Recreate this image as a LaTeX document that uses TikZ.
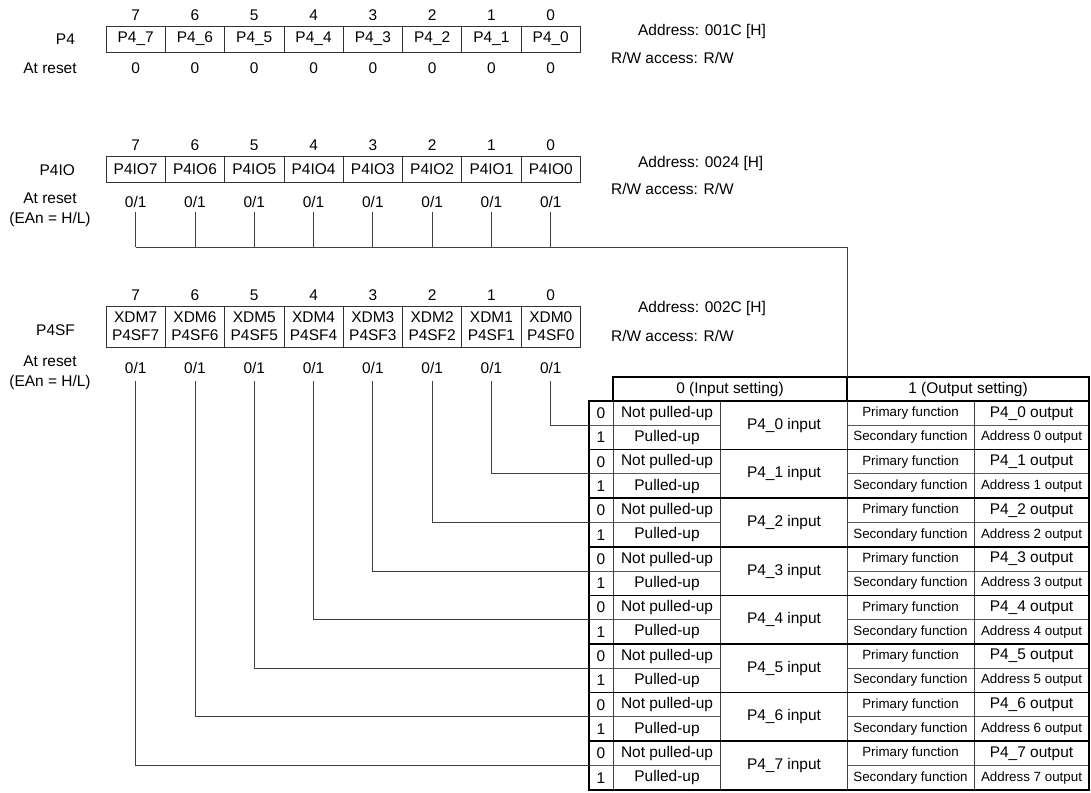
\documentclass[tikz,border=0pt]{standalone}
\usepackage{fontspec}
\setmainfont{Liberation Sans}
\begin{document}
\begin{tikzpicture}[x=0.02cm,y=-0.02cm]
\tikzstyle{regcell}=[draw=black!80,rectangle,minimum width=1.186cm,minimum height=0.52cm,inner sep=0pt,font=\fontsize{8.8}{10}\selectfont]
\tikzstyle{sfcell}=[regcell,minimum height=0.82cm,align=center,font=\fontsize{8.8}{10.2}\selectfont]
\tikzstyle{txt}=[inner sep=1pt,font=\fontsize{8.8}{10.5}\selectfont]
\tikzstyle{smalltxt}=[inner sep=1pt,font=\fontsize{7.6}{9}\selectfont]
\tikzstyle{wire}=[draw=black!75,line width=0.5pt]
\tikzstyle{grpline}=[black,line width=0.9pt]
\tikzstyle{subline}=[black!65,line width=0.5pt]
\tikzstyle{colline}=[black!75,line width=0.55pt]
\useasboundingbox (0,0) rectangle (1091,792);

% P4 register
\node[txt,anchor=east] (p4label) at (77,39) {P4};
\node[txt] (p4rstlabel) at (50,68) {At reset};
\node[txt,anchor=west] (p4addr) at (636,31) {Address: 001C [H]};
\node[txt,anchor=west] (p4rw) at (609,58) {R/W access: R/W};
\foreach \n in {0,...,7} {
  \node[txt] (p4bit\n) at ({106+59.3*(7.5-\n)},15) {\n};
  \node[regcell] (p4c\n) at ({106+59.3*(7.5-\n)},39) {P4\_\n};
  \node[txt] (p4rst\n) at ({106+59.3*(7.5-\n)},68) {0};
}

% P4IO register
\node[txt,anchor=east] (iolabel) at (77,170) {P4IO};
\node[txt,align=center,font=\fontsize{8.8}{11.5}\selectfont] (iorstlabel) at (50,210) {At reset\\(EAn = H/L)};
\node[txt,anchor=west] (ioaddr) at (636,163) {Address: 0024 [H]};
\node[txt,anchor=west] (iorw) at (609,189) {R/W access: R/W};
\foreach \n in {0,...,7} {
  \node[txt] (iobit\n) at ({106+59.3*(7.5-\n)},145) {\n};
  \node[regcell] (ioc\n) at ({106+59.3*(7.5-\n)},169.5) {P4IO\n};
  \node[txt] (iorst\n) at ({106+59.3*(7.5-\n)},202) {0/1};
}

% P4SF register
\node[txt,anchor=east] (sflabel) at (77,330) {P4SF};
\node[txt,align=center,font=\fontsize{8.8}{11.5}\selectfont] (sfrstlabel) at (50,373) {At reset\\(EAn = H/L)};
\node[txt,anchor=west] (sfaddr) at (636,308) {Address: 002C [H]};
\node[txt,anchor=west] (sfrw) at (609,336) {R/W access: R/W};
\foreach \n in {0,...,7} {
  \node[txt] (sfbit\n) at ({106+59.3*(7.5-\n)},295) {\n};
  \node[sfcell] (sfc\n) at ({106+59.3*(7.5-\n)},326.5) {XDM\n\\P4SF\n};
  \node[txt] (sfrst\n) at ({106+59.3*(7.5-\n)},368) {0/1};
}

% table
\node[txt] (hdrin) at (730,389) {0 (Input setting)};
\node[txt] (hdrout) at (968,389) {1 (Output setting)};
\coordinate (hdrsplit) at (847,377);
\draw[grpline] (613,377) rectangle (1089,401);
\draw[grpline] (847,377) -- (847,401);
\foreach \n in {0,...,7} {
  \draw[subline] (589,{425.3+48.6*\n}) -- (720,{425.3+48.6*\n});
  \draw[subline] (847,{425.3+48.6*\n}) -- (1089,{425.3+48.6*\n});
  \node[txt] (idx\n a) at (601,{413.2+48.6*\n}) {0};
  \node[txt] (idx\n b) at (601,{437.5+48.6*\n}) {1};
  \node[txt] (npu\n) at (667,{413.2+48.6*\n}) {Not pulled-up};
  \node[txt] (pu\n) at (667,{437.5+48.6*\n}) {Pulled-up};
  \node[txt] (in\n) at (784,{425.3+48.6*\n}) {P4\_\n\ input};
  \node[smalltxt] (pri\n) at (910.5,{413.2+48.6*\n}) {Primary function};
  \node[smalltxt] (sec\n) at (910.5,{437.5+48.6*\n}) {Secondary function};
  \node[txt] (out\n) at (1031.5,{413.2+48.6*\n}) {P4\_\n\ output};
  \node[smalltxt] (adr\n) at (1031.5,{437.5+48.6*\n}) {Address \n\ output};
  \coordinate (grp\n) at (589,{425.3+48.6*\n});
}
\foreach \x in {613,720,847,974}
  \draw[colline] (\x,401) -- (\x,790);
\foreach \n in {1,...,7}
  \draw[grpline] (589,{401+48.6*\n}) -- (1089,{401+48.6*\n});
\draw[grpline] (589,401) rectangle (1089,790);

% P4IO bus to table
\coordinate (iobus) at (847,247);
\foreach \n in {0,...,7}
  \draw[wire] ([yshift=-1pt]iorst\n.south) -- (iorst\n.south |- iobus);
\draw[wire] (iorst7.south |- iobus) -- (iobus) -- (hdrsplit);

% P4SF bits to rows
\foreach \n in {0,...,7}
  \draw[wire] ([yshift=-3pt]sfrst\n.south) |- (grp\n);
\end{tikzpicture}
\end{document}
